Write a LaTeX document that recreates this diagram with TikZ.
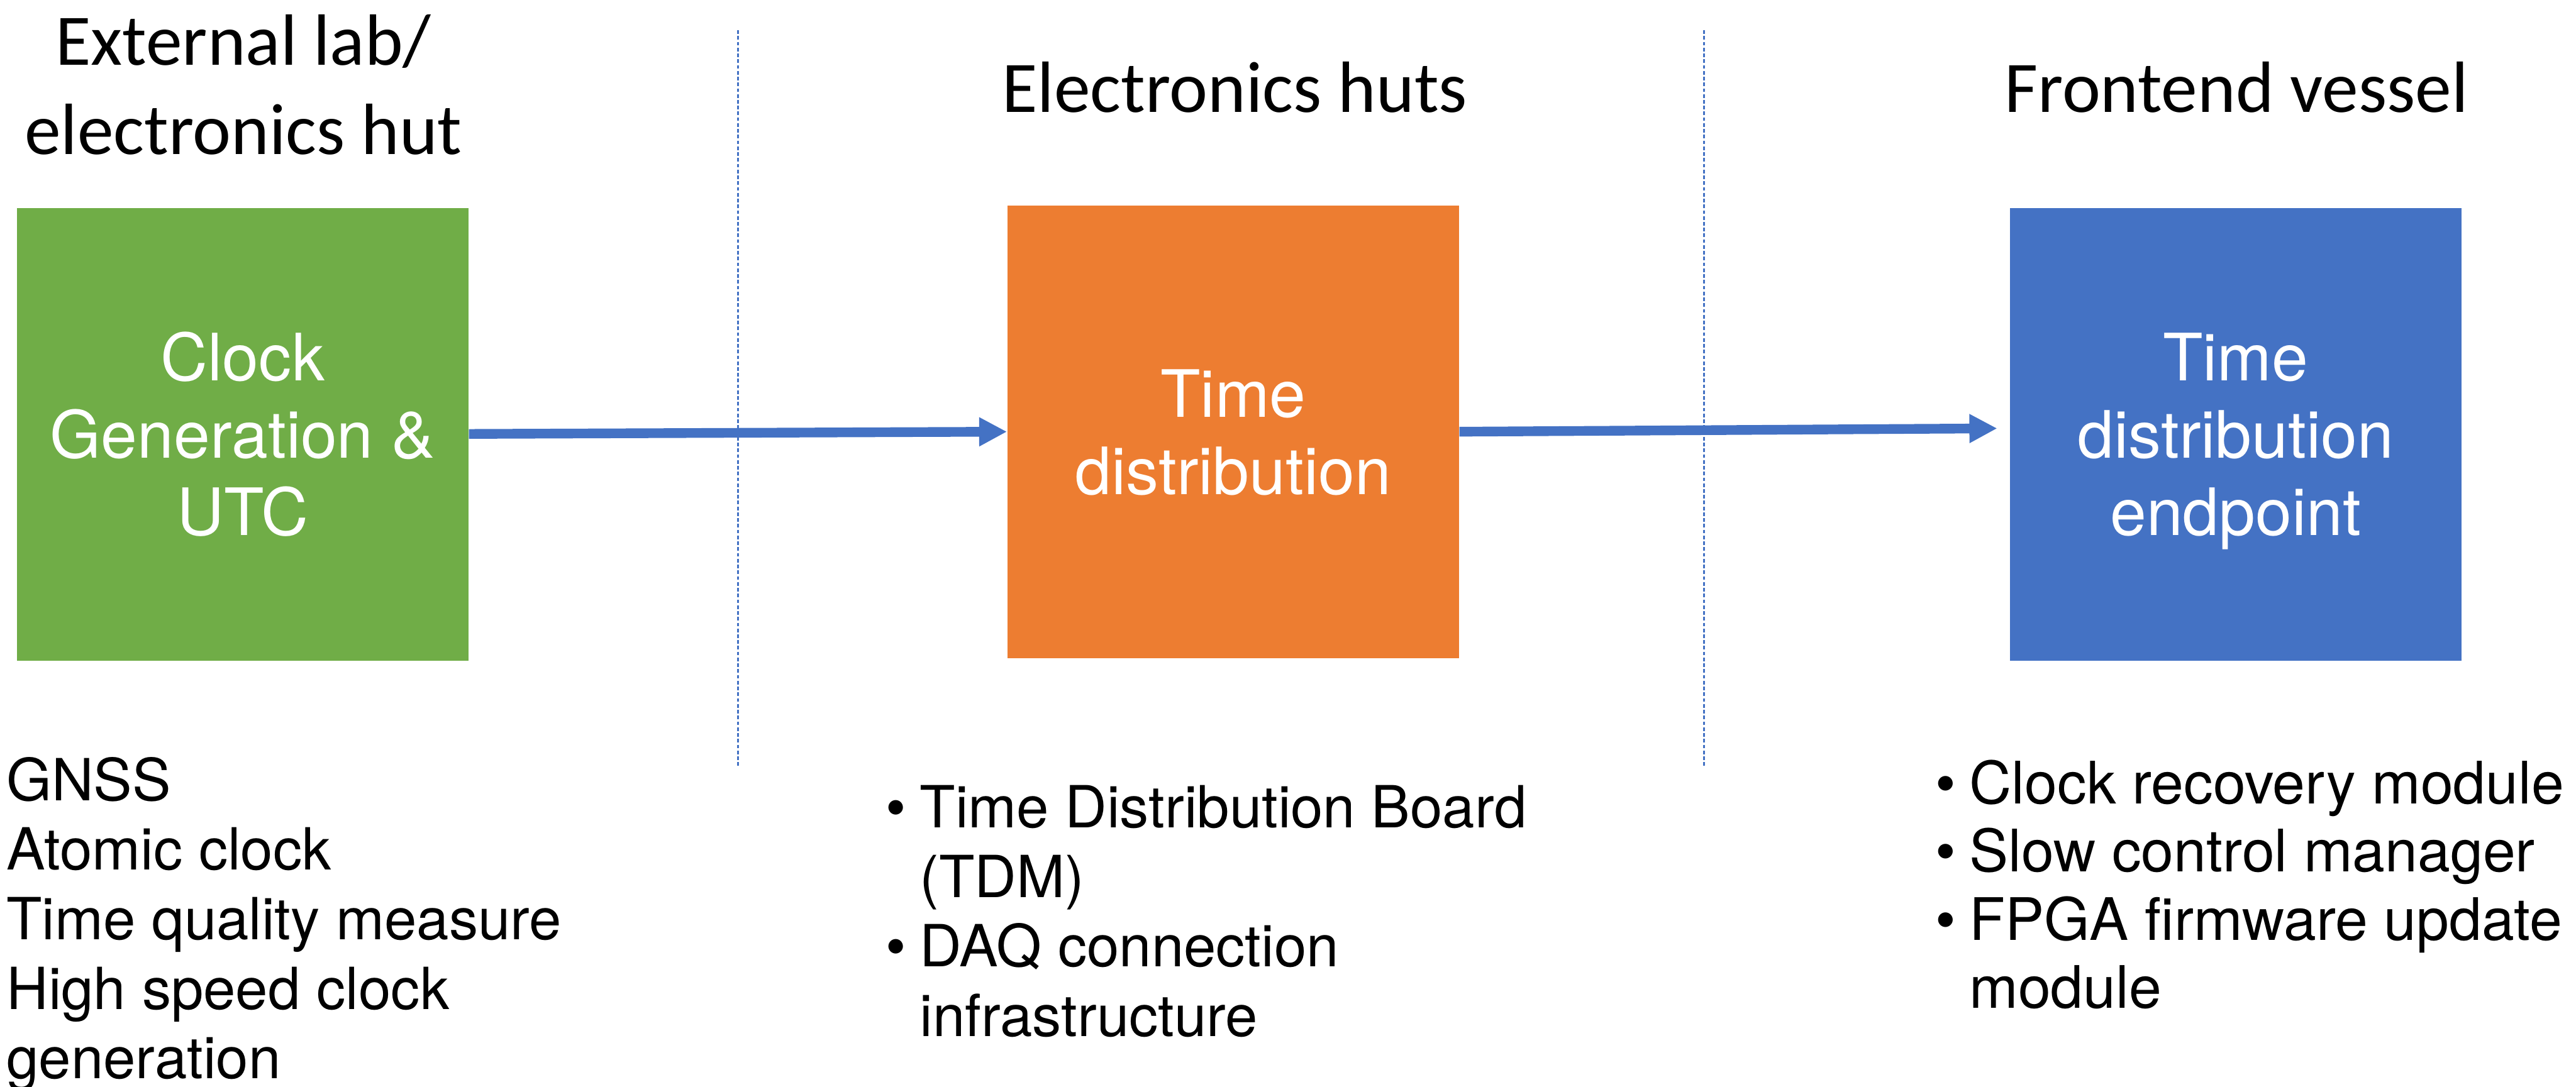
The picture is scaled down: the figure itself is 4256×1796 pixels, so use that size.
\documentclass[tikz,border=0pt]{standalone}
\usepackage{fontspec}
\setmainfont{TeX Gyre Heros}
\newfontfamily\headfont{Carlito}
\usetikzlibrary{arrows.meta}
\definecolor{boxgreen}{HTML}{70AD47}
\definecolor{boxorange}{HTML}{ED7D31}
\definecolor{boxblue}{HTML}{4472C4}
% bullet item with a hanging indent
\newcommand{\bulletitem}[1]{\makebox[14pt][l]{\textbullet}#1}
\newcommand{\hangitem}[1]{\hspace*{14pt}#1}
\begin{document}
\begin{tikzpicture}[x=0.25pt,y=-0.25pt,
  zone/.style={font=\headfont\fontsize{30}{36.75}\selectfont, inner sep=0pt, anchor=base},
  block/.style={minimum width=186.5pt, minimum height=187pt, inner sep=0pt, draw=none},
  blocktext/.style={text=white, inner sep=0pt, font=\fontsize{27}{32}\selectfont},
  notes/.style={inner sep=0pt, anchor=base west},
  link/.style={draw=boxblue, line width=4pt, -{Triangle[length=11.5pt,width=11.25pt]}},
  divider/.style={draw=boxblue, line width=0.75pt, dash pattern=on 1.5pt off 0.9pt}
]
\useasboundingbox (0,0) rectangle (4256,1796);

% column headings
\node[zone] (hdlab) at (402,108)
  {\begin{tabular}[t]{@{}c@{}}External lab/\\electronics hut\end{tabular}};
\node[zone] (hdhuts) at (2040,186) {Electronics huts};
\node[zone] (hdvessel) at (3695,186) {Frontend vessel};

% column separators
\coordinate (sepAtop) at (1219,50);
\coordinate (sepAbot) at (1219,1267);
\coordinate (sepBtop) at (2815,50);
\coordinate (sepBbot) at (2815,1267);
\draw[divider] (sepAtop) -- (sepAbot);
\draw[divider] (sepBtop) -- (sepBbot);

% the three stages
\node[block, fill=boxgreen] (clk) at (401,718) {};
\node[block, fill=boxorange] (dist) at (2037.5,713.5) {};
\node[block, fill=boxblue] (endp) at (3693.5,718) {};

\node[blocktext] (clktxt) at ([yshift=-3.3pt]clk.center)
  {\begin{tabular}{@{}c@{}}Clock\\Generation \&\\UTC\end{tabular}};
\node[blocktext] (disttxt) at ([yshift=-3.6pt]dist.center)
  {\begin{tabular}{@{}c@{}}Time\\distribution\end{tabular}};
\node[blocktext] (endptxt) at ([yshift=-3.4pt]endp.center)
  {\begin{tabular}{@{}c@{}}Time\\distribution\\endpoint\end{tabular}};

% signal flow
\coordinate (endpin) at ([xshift=-5pt,yshift=2.5pt]endp.west);
\draw[link] ([yshift=0.2pt]clk.east) -- (dist.west);
\draw[link] (dist.east) -- (endpin);

% descriptions below each stage
\node[notes, font=\fontsize{24}{28.75}\selectfont] (labnotes) at (10,1323)
  {\begin{tabular}[t]{@{}l@{}}GNSS\\Atomic clock\\Time quality measure\\High speed clock\\generation\end{tabular}};
\node[notes, font=\fontsize{24}{28.75}\selectfont] (hutnotes) at (1463,1368)
  {\begin{tabular}[t]{@{}l@{}}\bulletitem{Time Distribution Board}\\\hangitem{(TDM)}\\\bulletitem{DAQ connection}\\\hangitem{infrastructure}\end{tabular}};
\node[notes, font=\fontsize{24.2}{28.2}\selectfont] (vesselnotes) at (3197,1328)
  {\begin{tabular}[t]{@{}l@{}}\bulletitem{Clock recovery module}\\\bulletitem{Slow control manager}\\\bulletitem{FPGA firmware update}\\\hangitem{module}\end{tabular}};
\end{tikzpicture}
\end{document}
